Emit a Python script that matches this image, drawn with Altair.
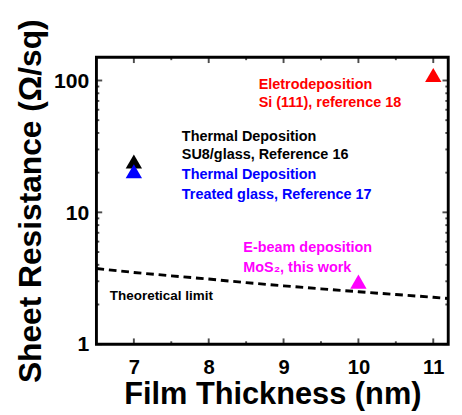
import altair as alt
import pandas as pd

FONT = "Liberation Sans"

# Measured data points
pt_x = [7, 7, 11, 10]
pt_y = [24.3, 20.5, 110, 2.98]
pt_color = ["#000000", "#0000FF", "#FF0000", "#FF00FF"]

# Theoretical limit curve
th_x = [6.5, 7, 7.5, 8, 8.5, 9, 9.5, 10, 10.5, 11, 11.2]
th_y = [3.75, 3.5, 3.3, 3.12, 2.93, 2.77, 2.63, 2.5, 2.38, 2.27, 2.22]

# Annotations
ann_text = ["Eletrodeposition", "Si (111), reference 18",
            "Thermal Deposition", "SU8/glass, Reference 16",
            "Thermal Deposition", "Treated glass, Reference 17",
            "E-beam deposition", "MoS\u2082, this work",
            "Theoretical limit"]
ann_x = [8.667, 8.667, 7.641, 7.641, 7.641, 7.641, 8.462, 8.462, 6.679]
ann_y = [86.1, 62.6, 34.8, 25.3, 17.8, 12.7, 4.97, 3.55, 2.15]
ann_color = ["#FF0000", "#FF0000", "#000000", "#000000", "#0000FF", "#0000FF",
             "#FF00FF", "#FF00FF", "#000000"]
ann_size = [15, 15, 15, 15, 15, 15, 15, 15, 14]

# Ticks
x_major = [7, 8, 9, 10, 11]
x_minor = [7.5, 8.5, 9.5, 10.5]
y_major = [1, 10, 100]
y_minor = [2, 3, 4, 5, 6, 7, 8, 9, 20, 30, 40, 50, 60, 70, 80, 90]

W, H = 366, 298.5
XD = [6.5, 11.2]
YD = [1, 150]

xs = alt.Scale(domain=XD, nice=False, zero=False)
ys = alt.Scale(type="log", domain=YD, nice=False)

pts = pd.DataFrame({"x": pt_x, "y": pt_y, "c": pt_color})
th = pd.DataFrame({"x": th_x, "y": th_y})
ann = pd.DataFrame({"x": ann_x, "y": ann_y, "t": ann_text, "c": ann_color, "s": ann_size})
xmaj = pd.DataFrame({"x": x_major})
xmin = pd.DataFrame({"x": x_minor})
ymaj = pd.DataFrame({"y": y_major})
ymin = pd.DataFrame({"y": y_minor})

xaxis = alt.Axis(values=x_major, title="Film Thickness (nm)", grid=False, ticks=False,
                 domain=False,
                 labelFont=FONT, labelFontSize=21, labelFontWeight="bold",
                 labelColor="black", labelPadding=13, titleFont=FONT, titleFontSize=32,
                 titleFontWeight="bold", titleColor="black", titlePadding=3, format="d")
yaxis = alt.Axis(values=y_major, title="Sheet Resistance (\u03a9/sq)", grid=False, ticks=False,
                 domain=False,
                 labelFont=FONT, labelFontSize=22, labelFontWeight="bold",
                 labelColor="black", labelPadding=8, titleFont=FONT, titleFontSize=33,
                 titleFontWeight="bold", titleColor="black", titlePadding=6, format="d")

line = alt.Chart(th).mark_line(color="black", strokeWidth=3, strokeDash=[8, 5]).encode(
    x=alt.X("x:Q", scale=xs, axis=xaxis),
    y=alt.Y("y:Q", scale=ys, axis=yaxis),
)

points = alt.Chart(pts).mark_point(shape="triangle-up", filled=True, size=290, opacity=1).encode(
    x=alt.X("x:Q", scale=xs),
    y=alt.Y("y:Q", scale=ys),
    color=alt.Color("c:N", scale=None),
)

texts = alt.Chart(ann).mark_text(align="left", baseline="alphabetic", font=FONT,
                                 fontWeight="bold").encode(
    x=alt.X("x:Q", scale=xs),
    y=alt.Y("y:Q", scale=ys),
    text="t:N",
    color=alt.Color("c:N", scale=None),
    size=alt.Size("s:Q", scale=None),
)

def xt(d, ln, top):
    yv = ln / 2 if top else H - ln / 2
    return alt.Chart(d).mark_tick(color="black", thickness=2, size=ln, orient="vertical").encode(
        x=alt.X("x:Q", scale=xs), y=alt.value(yv))

def yt(d, ln, right):
    xv = W - ln / 2 if right else ln / 2
    return alt.Chart(d).mark_tick(color="black", thickness=2, size=ln, orient="horizontal").encode(
        y=alt.Y("y:Q", scale=ys), x=alt.value(xv))

ticks = [xt(xmaj, 6, False), xt(xmaj, 6, True), xt(xmin, 3, False), xt(xmin, 3, True),
         yt(ymaj, 6, False), yt(ymaj, 6, True), yt(ymin, 3, False), yt(ymin, 3, True)]

chart = alt.layer(line, *ticks, points, texts).properties(
    width=W, height=H,
    padding={"left": 8, "top": 2, "right": 0, "bottom": 0},
).configure_view(stroke="black", strokeWidth=3)

chart.save("out.html", embed_options={"renderer": "svg", "actions": False})
